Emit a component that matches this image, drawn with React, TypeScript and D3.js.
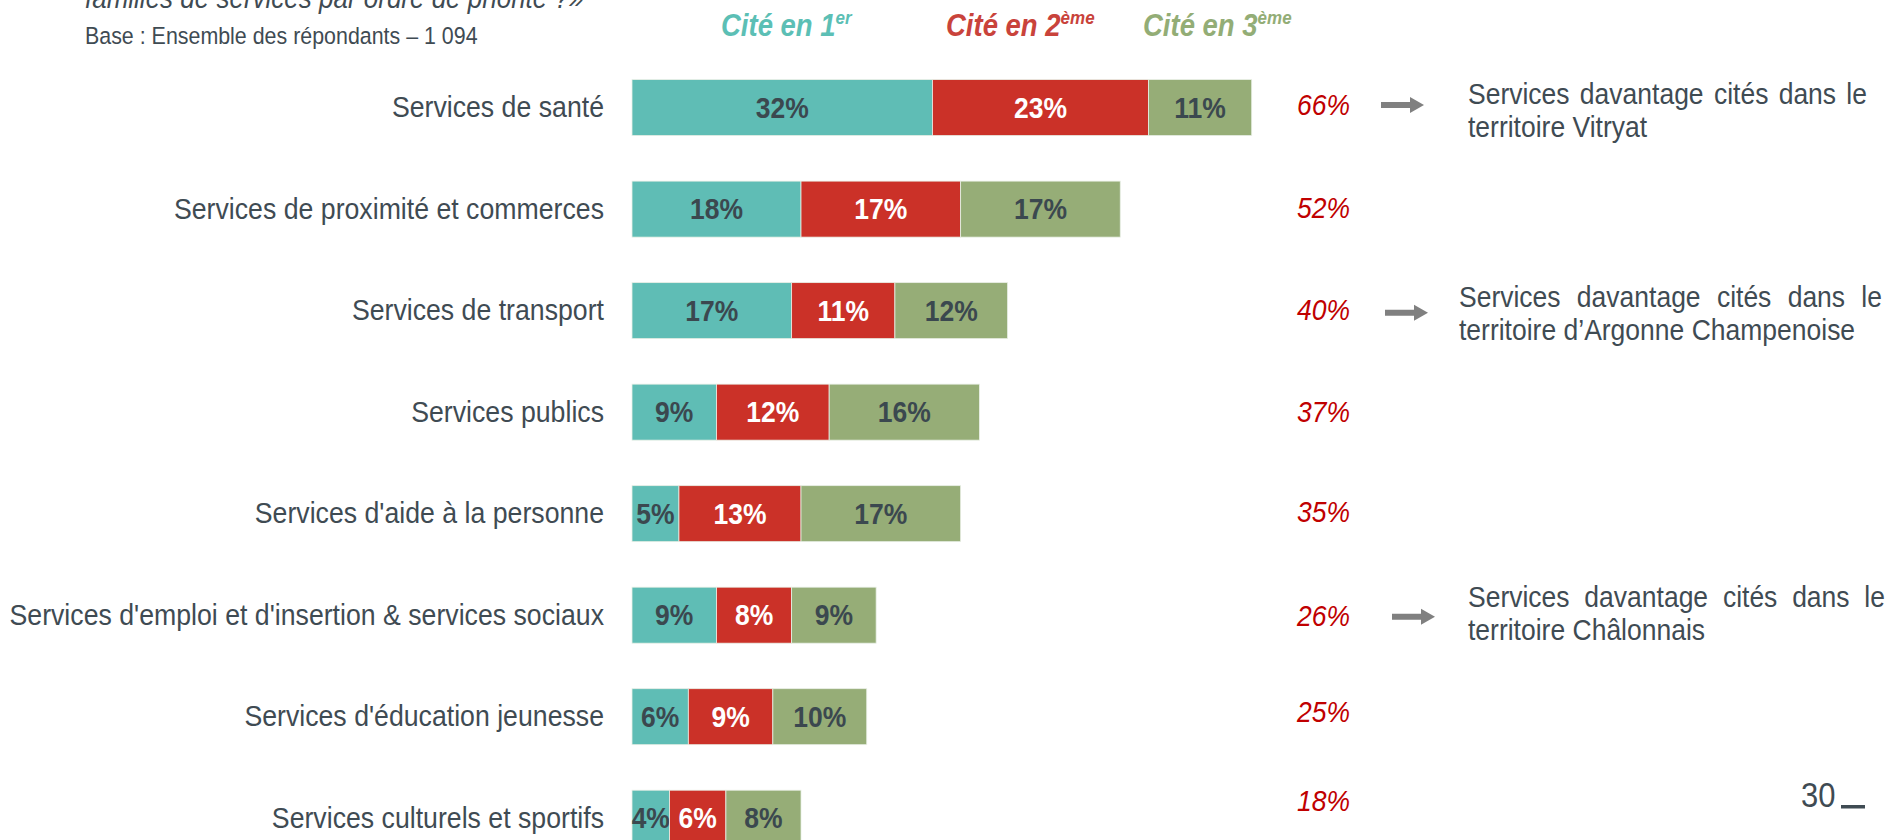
import React from 'react';
import * as d3 from 'd3';

// ---------- data ----------
const categories = [
  'Services de santé',
  'Services de proximité et commerces',
  'Services de transport',
  'Services publics',
  "Services d'aide à la personne",
  "Services d'emploi et d'insertion & services sociaux",
  "Services d'éducation jeunesse",
  'Services culturels et sportifs',
];
const cite1 = [32, 18, 17, 9, 5, 9, 6, 4];
const cite2 = [23, 17, 11, 12, 13, 8, 9, 6];
const cite3 = [11, 17, 12, 16, 17, 9, 10, 8];
const totals = [66, 52, 40, 37, 35, 26, 25, 18];
const seriesKeys = ['c1', 'c2', 'c3'];
const seriesLabels = ['Cité en 1', 'Cité en 2', 'Cité en 3'];
const seriesSup = ['er', 'ème', 'ème'];
const annotationRows = [0, 2, 5];
const annotationLines = [
  ['Services davantage cités dans le', 'territoire Vitryat'],
  ['Services davantage cités dans le', 'territoire d’Argonne Champenoise'],
  ['Services davantage cités dans le', 'territoire Châlonnais'],
];
const titleText = 'familles de services par ordre de priorité ?»';
const baseText = 'Base : Ensemble des répondants – 1 094';
const pageNumber = '30';

// ---------- style / layout ----------
const W = 1895;
const H = 840;
const S = 1.12; // vertical text stretch
const FONT = '"Liberation Sans", Arial, Helvetica, sans-serif';
const TEXT = '#3f4b53';
const DARK = '#3b484f';
const colors = ['#5fbdb5', '#cb3128', '#96ad77'];
const legendColors = ['#5cbfb5', '#c9433b', '#93ad76'];
const labelColors = [DARK, '#ffffff', DARK];
const TOTAL_RED = '#c00000';
const ARROW = '#808080';
const legendX = [721, 946, 1143];
const annLayout = [
  { arrowX: 1381, textX: 1468, right: 1867, dy: -2.5, top: -4 },
  { arrowX: 1385, textX: 1459, right: 1882, dy: 2, top: -4 },
  { arrowX: 1392, textX: 1468, right: 1885, dy: 1.5, top: -8 },
];
const totalNudge = [-2, -1, 0, 0, -1, 1, -4, -17];
const ANN_SIZE = 26.5;

let measureCtx: CanvasRenderingContext2D | null = null;
function measure(str: string, size: number) {
  if (!measureCtx) {
    const c = document.createElement('canvas');
    measureCtx = c.getContext('2d');
  }
  if (!measureCtx) return str.length * size * 0.5;
  measureCtx.font = `${size}px "Liberation Sans", Arial, sans-serif`;
  return measureCtx.measureText(str).width;
}

function T(props: any) {
  const { x, y, size, anchor = 'start', weight = 'normal', italic = false, fill = TEXT, children } = props;
  return (
    <text
      transform={`translate(${x},${y}) scale(1,${S})`}
      fontFamily={FONT}
      fontSize={size}
      fontWeight={weight}
      fontStyle={italic ? 'italic' : 'normal'}
      textAnchor={anchor}
      fill={fill}
    >
      {children}
    </text>
  );
}

function Justified({ x, y, right, size, text }: any) {
  const words = text.split(' ');
  const widths = words.map((w: string) => measure(w, size));
  const total = widths.reduce((a: number, b: number) => a + b, 0);
  const gap = words.length > 1 ? (right - x - total) / (words.length - 1) : 0;
  let cx = 0;
  const pos: number[] = [];
  widths.forEach((w: number) => {
    pos.push(cx);
    cx += w + gap;
  });
  return (
    <g transform={`translate(${x},${y}) scale(1,${S})`}>
      {words.map((w: string, i: number) => (
        <text key={i} x={pos[i]} y={0} fontFamily={FONT} fontSize={size} fill={TEXT}>
          {w}
        </text>
      ))}
    </g>
  );
}

export default function App() {
  const rows = categories.map((c, i) => ({ cat: c, c1: cite1[i], c2: cite2[i], c3: cite3[i] }));
  const stacked = d3.stack<any>().keys(seriesKeys)(rows);

  const x = d3.scaleLinear().domain([0, 66]).range([632, 1251.7]);
  const y = d3.scalePoint<string>().domain(categories).range([107.6, 818.2]);
  const barH = 56;

  return (
    <svg
      width={W}
      height={H}
      viewBox={`0 0 ${W} ${H}`}
      style={{ position: 'absolute', left: 0, top: 0, display: 'block', background: '#fff' }}
    >
      <rect x={0} y={0} width={W} height={H} fill="#fff" />

      {/* title (cut at top, as in the slide) & base */}
      <T x={85} y={8} size={26} italic>{titleText}</T>
      <T x={85} y={44} size={21.4}>{baseText}</T>

      {/* legend */}
      {seriesLabels.map((l, i) => (
        <text
          key={l}
          transform={`translate(${legendX[i]},36) scale(1,${S})`}
          fontFamily={FONT}
          fontSize={27.5}
          fontWeight="bold"
          fontStyle="italic"
          fill={legendColors[i]}
        >
          {l}
          <tspan fontSize={17} dy={-11}>{seriesSup[i]}</tspan>
        </text>
      ))}

      {/* category labels */}
      {categories.map((c) => (
        <T key={c} x={604} y={(y(c) as number) + 9.5} size={26.7} anchor="end">{c}</T>
      ))}

      {/* bars */}
      {stacked.map((s, si) => (
        <g key={s.key}>
          {s.map((d: any, i: number) => {
            const cy = y(categories[i]) as number;
            const x0 = x(d[0]);
            const x1 = x(d[1]);
            const v = d[1] - d[0];
            return (
              <g key={i}>
                <rect x={x0} y={cy - barH / 2} width={x1 - x0} height={barH} fill={colors[si]} stroke="#e9efe6" strokeWidth={0.8} />
                <T x={(x0 + x1) / 2} y={cy + 10} size={26.5} weight="bold" anchor="middle" fill={labelColors[si]}>
                  {`${v}%`}
                </T>
              </g>
            );
          })}
        </g>
      ))}

      {/* totals */}
      {totals.map((t, i) => (
        <T key={i} x={1350} y={(y(categories[i]) as number) + 9.5 + totalNudge[i]} size={26.5} italic anchor="end" fill={TOTAL_RED}>
          {`${t}%`}
        </T>
      ))}

      {/* annotations */}
      {annotationRows.map((r, k) => {
        const cy = y(categories[r]) as number;
        const L = annLayout[k];
        const ay = cy + L.dy;
        const textTop = cy + L.top;
        return (
          <g key={k}>
            <path
              d={`M${L.arrowX},${ay - 3} L${L.arrowX + 29},${ay - 3} L${L.arrowX + 29},${ay - 8} L${L.arrowX + 43},${ay} L${L.arrowX + 29},${ay + 8} L${L.arrowX + 29},${ay + 3} L${L.arrowX},${ay + 3} Z`}
              fill={ARROW}
            />
            <Justified x={L.textX} y={textTop} right={L.right} size={ANN_SIZE} text={annotationLines[k][0]} />
            <T x={L.textX} y={textTop + 33} size={ANN_SIZE}>{annotationLines[k][1]}</T>
          </g>
        );
      })}

      {/* page number */}
      <T x={1801} y={807} size={31}>{pageNumber}</T>
      <rect x={1841} y={805} width={24} height={3.5} fill={TEXT} />
    </svg>
  );
}
